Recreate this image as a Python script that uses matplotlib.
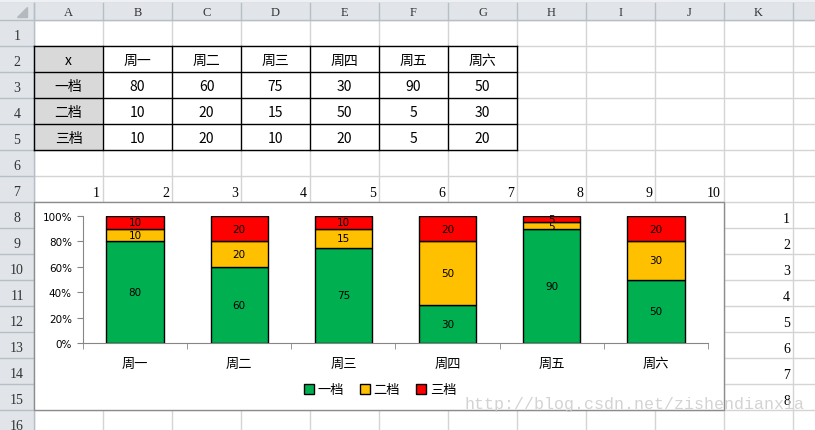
import matplotlib
matplotlib.use('Agg')
import matplotlib.pyplot as plt
from matplotlib.patches import Rectangle
from matplotlib.ticker import PercentFormatter, FixedLocator

plt.rcParams['font.family'] = ['Noto Sans CJK SC', 'DejaVu Sans']

# data
days = ['周一', '周二', '周三', '周四', '周五', '周六']
tiers = ['一档', '二档', '三档']
tier1 = [80, 60, 75, 30, 90, 50]
tier2 = [10, 20, 15, 50, 5, 30]
tier3 = [10, 20, 10, 20, 5, 20]
col_letters = ['A', 'B', 'C', 'D', 'E', 'F', 'G', 'H', 'I', 'J', 'K']
row7_numbers = [1, 2, 3, 4, 5, 6, 7, 8, 9, 10]
colK_numbers = [1, 2, 3, 4, 5, 6, 7, 8]
tier_colors = ['#00B050', '#FFC000', '#FF0000']

W, H = 815, 431
fig = plt.figure(figsize=(W / 100, H / 100), dpi=100)

# sheet layout in pixels
HDR_W = 34
COL_W = 69
HDR_TOP, HDR_BOT = 4, 21
ROW_H = 26
GRID = '#D4D4D4'
HDR_FILL = '#E1E5EA'
HDR_LINE = '#B8BEC6'
SHEET_FONT = 'Liberation Serif'


def col_left(i):
    return HDR_W + COL_W * i


def row_top(r):
    return HDR_BOT + (r - 1) * ROW_H


bg = fig.add_axes([0, 0, 1, 1])
bg.set_xlim(0, W)
bg.set_ylim(H, 0)
bg.axis('off')

# top frame strip
bg.add_patch(Rectangle((0, 0), W, HDR_TOP, color='#EEF0F3', zorder=1))
bg.plot([0, W], [HDR_TOP - 0.5, HDR_TOP - 0.5], color='#A0A6AE', lw=1, zorder=2)

# grid lines
for i in range(12):
    x = col_left(i)
    bg.plot([x, x], [HDR_BOT, H], color=GRID, lw=1, zorder=1)
for r in range(1, 18):
    y = row_top(r)
    bg.plot([HDR_W, W], [y, y], color=GRID, lw=1, zorder=1)

# column headers
bg.add_patch(Rectangle((0, HDR_TOP), W, HDR_BOT - HDR_TOP, color=HDR_FILL, zorder=2))
bg.plot([0, W], [HDR_BOT, HDR_BOT], color=HDR_LINE, lw=1, zorder=3)
for i, letter in enumerate(col_letters):
    bg.plot([col_left(i), col_left(i)], [HDR_TOP, HDR_BOT], color=HDR_LINE, lw=1, zorder=3)
    bg.text(col_left(i) + COL_W / 2, (HDR_TOP + HDR_BOT) / 2 + 1, letter, ha='center', va='center',
            fontsize=9, family=SHEET_FONT, color='#333333', zorder=4)
bg.plot([col_left(11), col_left(11)], [HDR_TOP, HDR_BOT], color=HDR_LINE, lw=1, zorder=3)

# row headers
bg.add_patch(Rectangle((0, HDR_TOP), HDR_W, H - HDR_TOP, color=HDR_FILL, zorder=2))
bg.plot([HDR_W, HDR_W], [HDR_TOP, H], color=HDR_LINE, lw=1, zorder=3)
bg.add_patch(plt.Polygon([[27, 8], [27, 18], [17, 18]], color='#B4B9C0', zorder=4))
for r in range(1, 17):
    y = row_top(r)
    bg.plot([0, HDR_W], [y + ROW_H, y + ROW_H], color=HDR_LINE, lw=1, zorder=3)
    bg.text(HDR_W / 2, y + ROW_H / 2 + 3, str(r), ha='center', va='center',
            fontsize=10, family=SHEET_FONT, color='#333333', zorder=4)

# table A2:G5
t_left, t_top = col_left(0), row_top(2)
bg.add_patch(Rectangle((t_left, t_top), COL_W, 4 * ROW_H, color='#D9D9D9', zorder=2))
bg.add_patch(Rectangle((col_left(1), t_top), 6 * COL_W, 4 * ROW_H, color='white', zorder=2))
for i in range(8):
    bg.plot([col_left(i), col_left(i)], [t_top, t_top + 4 * ROW_H], color='black', lw=1, zorder=3)
for r in range(5):
    bg.plot([t_left, col_left(7)], [t_top + r * ROW_H, t_top + r * ROW_H], color='black', lw=1, zorder=3)

table_rows = [['x'] + days] + [[name] + vals for name, vals in zip(tiers, [tier1, tier2, tier3])]
for r, row in enumerate(table_rows):
    for c, val in enumerate(row):
        bg.text(col_left(c) + COL_W / 2, t_top + r * ROW_H + ROW_H / 2 + 1, str(val),
                ha='center', va='center', fontsize=10, zorder=4)

# row 7 numbers (A..J) and column K numbers (rows 8..15)
for i, n in enumerate(row7_numbers):
    bg.text(col_left(i + 1) - 3, row_top(7) + ROW_H - 3, str(n), ha='right', va='bottom',
            fontsize=10, family=SHEET_FONT, zorder=4)
for j, n in enumerate(colK_numbers):
    bg.text(col_left(11) - 3, row_top(8 + j) + ROW_H - 3, str(n), ha='right', va='bottom',
            fontsize=10, family=SHEET_FONT, zorder=4)

# chart frame
bg.add_patch(Rectangle((col_left(0), row_top(8)), col_left(10) - col_left(0), 8 * ROW_H,
                       facecolor='white', edgecolor='#8C8C8C', lw=1, zorder=5))

# watermark
bg.text(465, 405, 'http://blog.csdn.net/zishendianxia', ha='left', va='center',
        fontsize=12, family='Liberation Mono', color='#C8C8C8', alpha=0.8, zorder=9)

# chart plot area
px_l, px_r, px_t, px_b = 83, 708, 217, 344
ax = fig.add_axes([px_l / W, 1 - px_b / H, (px_r - px_l) / W, (px_b - px_t) / H])
ax.set_facecolor('none')
ax.set_zorder(6)

totals = [a + b + c for a, b, c in zip(tier1, tier2, tier3)]
bottom = [0.0] * len(days)
x = list(range(len(days)))
handles = []
for name, vals, color in zip(tiers, [tier1, tier2, tier3], tier_colors):
    frac = [v / t for v, t in zip(vals, totals)]
    bars = ax.bar(x, frac, 0.55, bottom=bottom, color=color, edgecolor='black', lw=1, label=name)
    ax.bar_label(bars, labels=[str(v) for v in vals], label_type='center', fontsize=7.5,
                 family='DejaVu Sans')
    handles.append(bars)
    bottom = [b + f for b, f in zip(bottom, frac)]

ax.set_xlim(-0.5, len(days) - 0.5)
ax.set_ylim(0, 1)
ax.yaxis.set_major_locator(FixedLocator([0, 0.2, 0.4, 0.6, 0.8, 1.0]))
ax.yaxis.set_major_formatter(PercentFormatter(1.0, decimals=0))
ax.set_xticks(x)
ax.set_xticklabels(days, fontsize=9.5)
ax.set_xticks([i - 0.5 for i in range(len(days) + 1)], minor=True)
ax.tick_params(axis='x', which='major', length=0, pad=10)
ax.tick_params(axis='x', which='minor', length=4, color='#868686', direction='out')
ax.tick_params(axis='y', length=4, color='#868686', direction='out', labelsize=7.5, pad=4)
for lbl in ax.get_yticklabels():
    lbl.set_family('DejaVu Sans')
for s in ['top', 'right']:
    ax.spines[s].set_visible(False)
for s in ['left', 'bottom']:
    ax.spines[s].set_color('#868686')

fig.legend(handles=handles, labels=tiers, loc='center', bbox_to_anchor=(380 / W, 1 - 391 / H),
           ncol=3, frameon=False, fontsize=9.5, handlelength=0.75, handleheight=0.75,
           handletextpad=0.3, columnspacing=1.2)

fig.savefig('out.png', dpi=100)
